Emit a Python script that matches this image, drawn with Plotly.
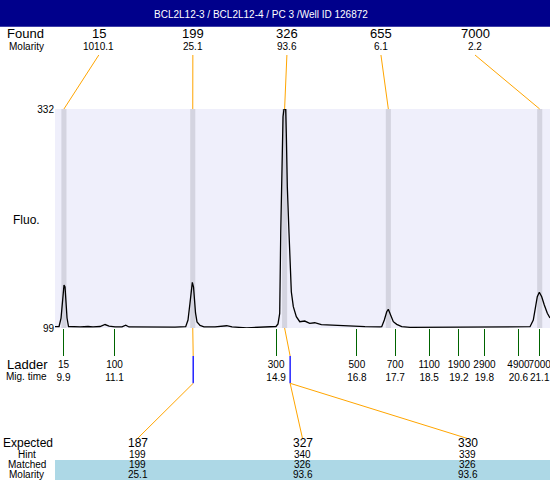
import plotly.graph_objects as go

# ---------------- data ----------------
title_text = "BCL2L12-3 / BCL2L12-4 / PC 3 /Well ID 126872"

# electropherogram (migration time, fluorescence)
trace_time = [9.701, 9.795, 9.842, 9.877, 9.912, 9.936, 9.960, 9.983, 10.018, 10.289,
              10.477, 10.594, 10.759, 10.877, 10.971, 11.112, 11.276, 11.363, 11.441, 11.935,
              12.523, 12.774, 12.828, 12.875, 12.911, 12.930, 12.958, 12.981, 13.005, 13.040,
              13.111, 13.204, 13.464, 13.739, 13.863, 14.209, 14.522, 14.757, 14.898, 14.945,
              14.985, 15.009, 15.039, 15.063, 15.086, 15.126, 15.140, 15.164, 15.204, 15.227,
              15.258, 15.305, 15.376, 15.456, 15.573, 15.691, 15.808, 15.964, 16.199, 16.591,
              16.991, 17.344, 17.384, 17.445, 17.502, 17.539, 17.596, 17.657, 17.737, 17.854,
              18.050, 18.990, 20.166, 20.825, 20.872, 20.949, 21.013, 21.043, 21.091, 21.147,
              21.208, 21.279, 21.342]
trace_fluo = [100.4, 100.6, 109.6, 128.8, 144.7, 142.6, 125.6, 109.6, 100.6, 100.1,
              100.6, 100.1, 100.6, 102.7, 101.1, 100.1, 100.3, 101.9, 100.1, 99.9,
              99.9, 100.4, 107.5, 125.6, 139.4, 147.6, 142.6, 128.8, 115.0, 105.4,
              101.7, 100.3, 100.1, 101.4, 100.1, 99.2, 99.9, 100.6, 100.6, 103.3,
              114.6, 199.7, 295.5, 323.8, 332.0, 332.0, 306.1, 249.3, 199.7, 164.2,
              137.6, 121.7, 111.0, 105.7, 106.4, 104.0, 104.6, 102.5, 101.9, 101.1,
              100.4, 100.1, 100.4, 107.5, 116.3, 118.9, 112.8, 105.7, 102.9, 100.4,
              99.7, 99.7, 99.7, 100.1, 100.4, 107.5, 121.7, 132.3, 137.0, 132.3,
              123.5, 114.6, 109.6]

fluo_ticks = [99, 332]

found_size = [15, 199, 326, 655, 7000]
found_molarity = ["1010.1", "25.1", "93.6", "6.1", "2.2"]
found_time = [9.91, 12.94, 15.10, 17.54, 21.10]

ladder_size = [15, 100, 300, 500, 700, 1100, 1900, 2900, 4900, 7000]
ladder_time = [9.9, 11.1, 14.9, 16.8, 17.7, 18.5, 19.2, 19.8, 20.6, 21.1]

expected_size = [187, 327, 330]
expected_hint = [199, 340, 339]
expected_matched = [199, 326, 326]
expected_molarity = ["25.1", "93.6", "93.6"]
expected_found_index = [1, 2, 2]            # found peak each expected fragment matched
matched_found_index = [1, 2]
matched_time = [12.95, 15.23]               # resolved migration time of matched peaks

# ---------------- layout helpers ----------------
W, H = 550, 480
L, T, PW, PH = 55, 109, 495, 219
X0, X1 = 9.70, 21.342
FONT = "Liberation Sans, Arial, sans-serif"


def pxx(px):
    return (px - L) / PW


def pyy(py):
    return (T + PH - py) / PH


def data_x(paper):
    return X0 + paper * (X1 - X0)


def label(x, y, text, size, color="black"):
    return dict(xref="paper", yref="paper", x=x, y=y, text=text, showarrow=False,
                xanchor="center", yanchor="middle",
                font=dict(family=FONT, size=size, color=color))


fig = go.Figure()
fig.add_trace(go.Scatter(x=trace_time, y=trace_fluo, mode="lines",
                         line=dict(color="black", width=1.3),
                         hoverinfo="skip", showlegend=False))

shapes = []
annotations = []

# title bar
shapes.append(dict(type="rect", xref="paper", yref="paper", x0=pxx(-2), x1=pxx(W + 2),
                   y0=pyy(26.7), y1=pyy(-2), fillcolor="#00008B", line=dict(width=0),
                   layer="above"))
annotations.append(label(pxx(261), pyy(15), title_text, 10, "white"))

# peak bands
for t in found_time:
    shapes.append(dict(type="rect", xref="x", yref="paper", x0=t - 0.06, x1=t + 0.06,
                       y0=0, y1=1, fillcolor="#D4D4E0", line=dict(width=0), layer="below"))

# found labels and connectors
for i, (s, m, t) in enumerate(zip(found_size, found_molarity, found_time)):
    lx = pxx(98.8 + 94.05 * i)
    annotations.append(label(lx, pyy(34), str(s), 13))
    annotations.append(label(lx, pyy(46.7), m, 10))
    shapes.append(dict(type="line", xref="x", yref="paper", x0=data_x(lx), y0=pyy(55),
                       x1=t, y1=1, line=dict(color="orange", width=1)))

# matched peak connectors below plot
for fi, mt in zip(matched_found_index, matched_time):
    shapes.append(dict(type="line", xref="x", yref="paper", x0=found_time[fi], y0=0,
                       x1=mt, y1=pyy(356), line=dict(color="orange", width=1)))
    shapes.append(dict(type="line", xref="x", yref="paper", x0=mt, y0=pyy(356),
                       x1=mt, y1=pyy(383.3), line=dict(color="blue", width=1.3)))

# expected table
shapes.append(dict(type="rect", xref="paper", yref="paper", x0=0, x1=pxx(W + 2),
                   y0=pyy(482), y1=pyy(460), fillcolor="#ADD8E6", line=dict(width=0),
                   layer="below"))
for j, (e, h, mm, mo, fi) in enumerate(zip(expected_size, expected_hint, expected_matched,
                                           expected_molarity, expected_found_index)):
    ex = (2 * j + 1) / 6
    mt = matched_time[matched_found_index.index(fi)]
    shapes.append(dict(type="line", xref="x", yref="paper", x0=mt, y0=pyy(383.3),
                       x1=data_x(ex), y1=pyy(438.5), line=dict(color="orange", width=1)))
    for txt, yy, sz in ((str(e), 443.3, 12), (str(h), 454.7, 10), (str(mm), 464.3, 10),
                        (mo, 474.5, 10)):
        annotations.append(label(ex, pyy(yy), txt, sz))

# left side labels
for txt, cx, cy, sz in (("Found", 25.3, 34, 13), ("Molarity", 26, 46.7, 10),
                        ("Fluo.", 26.3, 220, 12), ("Ladder", 27, 364, 13),
                        ("Mig. time", 26.3, 376.7, 10), ("Expected", 27.5, 442.5, 12),
                        ("Hint", 26.7, 454.7, 10), ("Matched", 26.7, 464.3, 10),
                        ("Molarity", 26.7, 474.5, 10)):
    annotations.append(label(pxx(cx), pyy(cy), txt, sz))

fig.update_layout(
    width=W, height=H,
    margin=dict(l=L, r=W - L - PW, t=T, b=H - T - PH, pad=0),
    paper_bgcolor="white", plot_bgcolor="#EFEFFB",
    showlegend=False,
    shapes=shapes, annotations=annotations,
    xaxis=dict(range=[X0, X1], tickvals=ladder_time,
               ticktext=[f"{s}<br>{t}" for s, t in zip(ladder_size, ladder_time)],
               ticks="outside", ticklen=27, tickwidth=1, tickcolor="#006400",
               tickangle=0,
               showgrid=False, zeroline=False, showline=False, fixedrange=True,
               ticklabeloverflow="allow",
               tickfont=dict(family=FONT, size=10, color="black")),
    yaxis=dict(range=[99, 332], tickvals=fluo_ticks, ticks="",
               showgrid=False, zeroline=False, showline=False, fixedrange=True,
               tickfont=dict(family=FONT, size=10, color="black")),
)

fig.write_html("out.html", config={"displayModeBar": False},
               post_script="document.body.style.margin='0';document.body.style.overflow='hidden';")
